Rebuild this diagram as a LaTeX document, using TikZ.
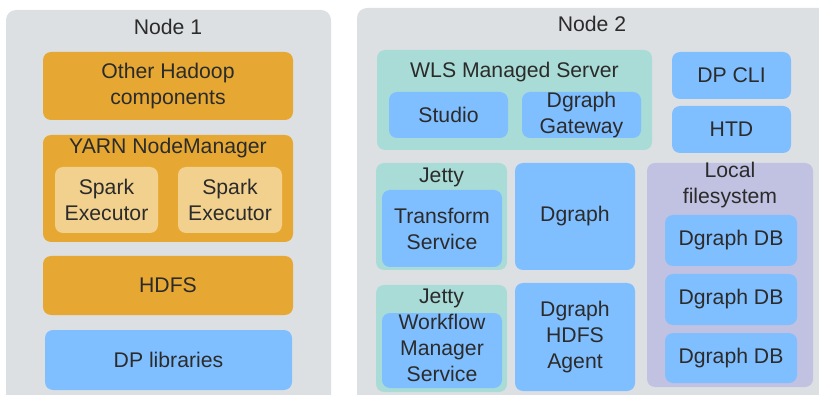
\documentclass[tikz,border=0pt]{standalone}
\usepackage{fontspec}
\setmainfont{Liberation Sans}
\definecolor{hostgray}{HTML}{DDE0E3}
\definecolor{hadooporange}{HTML}{E6A833}
\definecolor{sparkorange}{HTML}{F2D18E}
\definecolor{dpblue}{HTML}{80BFFF}
\definecolor{serverteal}{HTML}{A9DCD6}
\definecolor{fslavender}{HTML}{C1C1E2}
\definecolor{labelgray}{HTML}{2B2B2B}

\begin{document}
\begin{tikzpicture}[x=0.5pt,y=-0.5pt,
  every node/.style={font=\fontsize{10.6}{13}\selectfont,text=labelgray,align=center,inner sep=0pt},
  wh/.style 2 args={minimum width=#1*0.5pt,minimum height=#2*0.5pt},
  host/.style={fill=hostgray,rounded corners=5pt},
  orangebox/.style={fill=hadooporange,rounded corners=4pt},
  sparkbox/.style={fill=sparkorange,rounded corners=4pt},
  bluebox/.style={fill=dpblue,rounded corners=4pt},
  tealbox/.style={fill=serverteal,rounded corners=4pt},
  fsbox/.style={fill=fslavender,rounded corners=4pt}]
\useasboundingbox (0,0) rectangle (819,395);
\clip (0,0) rectangle (819,395);

% Node 1
\node[host,wh={325}{410}] (host1) at (168.5,215) {};
\node (host1title) at (168,27) {Node 1};
\node[orangebox,wh={250}{68}] (other) at (168,86) {Other Hadoop\\components};
\node[orangebox,wh={250}{107}] (yarn) at (168,188.5) {};
\node (yarntitle) at (168,148) {YARN NodeManager};
\node[sparkbox,wh={103}{66}] (spark1) at (106.5,200) {Spark\\Executor};
\node[sparkbox,wh={104}{66}] (spark2) at (230,200) {Spark\\Executor};
\node[orangebox,wh={250}{59}] (hdfs) at (168,285.5) {HDFS};
\node[bluebox,wh={247}{60}] (dplib) at (168.5,360) {DP libraries};

% Node 2
\node[host,wh={483}{412}] (host2) at (598.5,214) {};
\node (host2title) at (592,24) {Node 2};
\node[tealbox,wh={275}{100}] (wls) at (514.5,100) {};
\node (wlstitle) at (514.5,72) {WLS Managed Server};
\node[bluebox,wh={119}{46}] (studio) at (448.5,115) {Studio};
\node[bluebox,wh={119}{46}] (gateway) at (581.5,115) {Dgraph\\Gateway};
\node[bluebox,wh={119}{47}] (dpcli) at (731.5,75.5) {DP CLI};
\node[bluebox,wh={119}{47}] (htd) at (731.5,129.5) {HTD};
\node[tealbox,wh={131}{107}] (jetty1) at (441.5,216.5) {};
\node (jetty1title) at (441.5,177) {Jetty};
\node[bluebox,wh={120}{77}] (transform) at (442,228.5) {Transform\\Service};
\node[bluebox,wh={120}{107}] (dgraph) at (575,216.5) {Dgraph};
\node[tealbox,wh={131}{107}] (jetty2) at (441.5,338.5) {};
\node (jetty2title) at (441.5,298) {Jetty};
\node[bluebox,wh={120}{75}] (workflow) at (442,350.5) {};
\node (workflowtext) at (442,348) {Workflow\\Manager\\Service};
\node[bluebox,wh={120}{108}] (agent) at (575,337) {Dgraph\\HDFS\\Agent};
\node[fsbox,wh={166}{224}] (localfs) at (730,275) {};
\node (localfstitle) at (730,185) {Local\\filesystem};
\node[bluebox,wh={132}{51}] (db1) at (731,240.5) {Dgraph DB};
\node[bluebox,wh={132}{51}] (db2) at (731,299.5) {Dgraph DB};
\node[bluebox,wh={132}{50}] (db3) at (731,358) {Dgraph DB};
\end{tikzpicture}
\end{document}
